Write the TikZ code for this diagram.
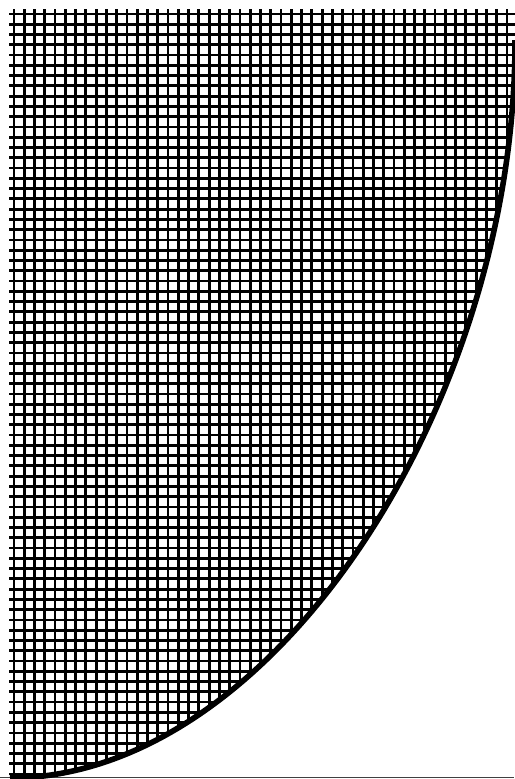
\documentclass[tikz,border=0pt]{standalone}
\begin{document}
\begin{tikzpicture}[x=1pt, y=-1pt,
    gridline/.style={line width=2.8pt},
    boundary/.style={line width=5.6pt},
    baseline/.style={line width=1.1pt, black!75}]
    \useasboundingbox (0,0) rectangle (514,779);
    % corners of the curve
    \coordinate (start) at (10,778);
    \coordinate (end) at (515,40);
    \coordinate (c1) at (275,778);
    \coordinate (c2) at (516,400);

    % hatched region
    \begin{scope}
        \clip (9,9) -- (530,9) -- (530,40) -- (end) .. controls (c2) and (c1) .. (start) -- (9,778) -- cycle;
        \foreach \k in {0,...,48}
            \draw[gridline] ({14+10.27*\k},9) -- ({14+10.27*\k},780);
        \foreach \k in {0,...,74}
            \draw[gridline] (9,{14+10.27*\k}) -- (530,{14+10.27*\k});
    \end{scope}

    \coordinate (bl) at (0,777.5);
    \coordinate (br) at (514,777.5);
    \draw[baseline] (bl) -- (br);

    \draw[boundary] (start) .. controls (c1) and (c2) .. (end);
\end{tikzpicture}
\end{document}
